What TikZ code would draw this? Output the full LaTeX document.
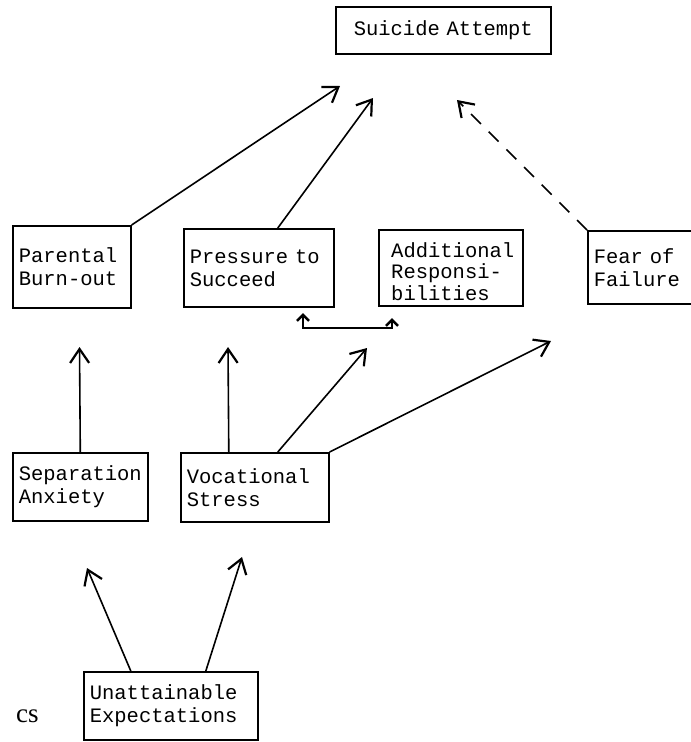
\documentclass[tikz,border=0pt]{standalone}
\usepackage{fontspec}
\setmainfont{Liberation Serif}
\newfontfamily\typefont{Liberation Mono}
\usetikzlibrary{arrows.meta}

\begin{document}
\begin{tikzpicture}[x=1pt,y=-1pt,>={Straight Barb[length=14pt,width=19pt,line width=2.2pt]},
        box/.style={draw,line width=1.6pt,anchor=north west,inner xsep=6pt,inner ysep=3pt,align=left,
            font=\typefont\fontsize{20.5}{23}\selectfont},
        boxtext/.style={anchor=north west,inner sep=0pt,align=left,font=\typefont\fontsize{20.5}{21.5}\selectfont},
        link/.style={->,line width=1.6pt},
        pair/.style={{Straight Barb[length=6pt,width=12pt,line width=2.6pt]}-{Straight Barb[length=6pt,width=12pt,line width=2.6pt]},line width=2.4pt}]
                \useasboundingbox(0,0)rectangle(691,742);
                \clip(0,0)rectangle(691,742);
                % boxes
                \node[box,align=center,text width=203pt,minimum height=47pt](sa)at(335,6){Suicide Attempt};
                \node[box,text width=106pt,minimum height=82pt](pb)at(12,225){Parental\\Burn-out};
                \node[box,text width=138pt,minimum height=78pt](pts)at(183,228){Pressure to\\Succeed};
                \node[box,minimum width=144pt,minimum height=76pt](ar)at(378,229){};
                \node[boxtext](ar-text)at([xshift=13pt,yshift=-13pt]ar.north west){Additional\\Responsi-\\bilities};
                \node[box,text width=108pt,minimum height=73pt](ff)at(587,230){Fear of\\Failure};
                \node[box,text width=123pt,minimum height=68pt](sep)at(12,452){Separation\\Anxiety};
                \node[box,text width=136pt,minimum height=69pt](voc)at(180,452){Vocational\\Stress};
                \node[box,text width=162pt,minimum height=68pt](ue)at(83,671){Unattainable\\Expectations};
                \node[anchor=base west,inner sep=0pt,font=\fontsize{27}{30}\selectfont](cs)at(16,722){cs};
                % free ends
                \coordinate(pb-tip)at(340,86);
                \coordinate(pts-tip)at(373,98);
                \coordinate(ff-tip)at(457,100);
                \coordinate(sep-tip)at(79.5,347);
                \coordinate(voc-tip1)at(228,347);
                \coordinate(voc-tip2)at(367,348);
                \coordinate(voc-tip3)at(551,341);
                \coordinate(ue-tip1)at(87,568);
                \coordinate(ue-tip2)at(242,557);
                \coordinate(pts-low)at(303,313);
                \coordinate(ar-low)at(392,318);
                % arrows
                \draw[link](pb.north east)--(pb-tip);
                \draw[link]([xshift=19pt]pts.north)--(pts-tip);
                \draw[link,dash pattern=on 14pt off 11pt](ff.north west)--(ff-tip);
                \draw[pair](pts-low)--++(0,15)-|(ar-low);
                \draw[link](sep.north)--(sep-tip);
                \draw[link]([xshift=-26pt]voc.north)--(voc-tip1);
                \draw[link]([xshift=23pt]voc.north)--(voc-tip2);
                \draw[link](voc.north east)--(voc-tip3);
                \draw[link]([xshift=-40pt]ue.north)--(ue-tip1);
                \draw[link]([xshift=35pt]ue.north)--(ue-tip2);
            \end{tikzpicture}
\end{document}
